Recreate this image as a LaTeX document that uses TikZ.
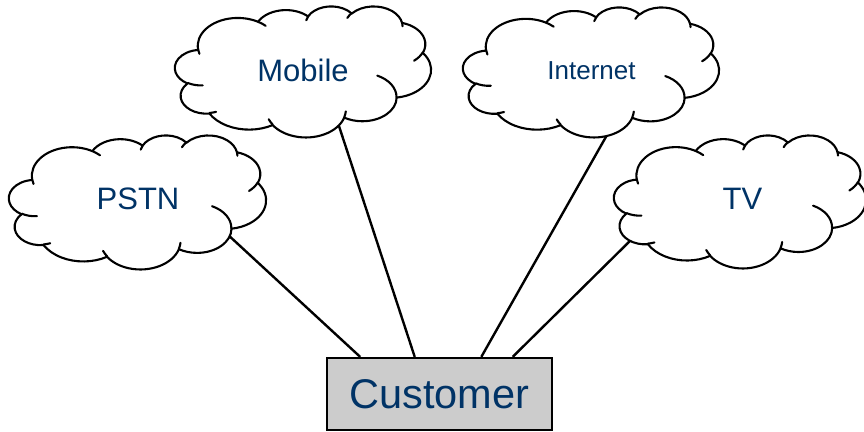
\documentclass[tikz,border=0pt]{standalone}
\usepackage{fontspec}
\setmainfont{Liberation Sans}
\usetikzlibrary{calc}

\definecolor{labelblue}{RGB}{0,51,102}
\definecolor{boxgray}{RGB}{204,204,204}

% An elliptic arc given by radii and "visual" start angle / sweep (degrees),
% stored as a style holding TikZ's parametric angles.
\newcommand\defarc[5]{%
  \pgfmathsetmacro\arcsa{atan2((#2)*sin(#4),(#3)*cos(#4))}%
  \pgfmathsetmacro\arcsb{atan2((#2)*sin((#4)+(#5)),(#3)*cos((#4)+(#5)))}%
  \pgfmathsetmacro\arcsc{\arcsa+mod(\arcsb-\arcsa+720,360)}%
  \edef\arcstmp{\noexpand\tikzset{#1/.style={start angle=\arcsa,end angle=\arcsc,x radius=#2,y radius=#3}}}%
  \arcstmp}

% outline of the cloud (box 432 x 432, y pointing down)
\defarc{co1}{67.53}{91.90}{-190.4875}{123.7805}
\defarc{co2}{53.33}{72.67}{-144.1024}{89.9452}
\defarc{co3}{43.65}{59.45}{-145.8079}{99.7230}
\defarc{co4}{48.57}{65.95}{-130.9861}{117.2417}
\defarc{co5}{53.33}{72.73}{-78.7089}{109.0269}
\defarc{co6}{67.75}{92.20}{-46.2673}{130.2690}
\defarc{co7}{57.85}{78.67}{0.6250}{114.0333}
\defarc{co8}{67.52}{92.15}{22.4516}{115.1726}
\defarc{co9}{77.20}{105.43}{66.2426}{75.7110}
\defarc{co10}{43.60}{59.18}{-274.9421}{146.7356}
\defarc{co11}{43.45}{59.45}{-246.8285}{152.5189}
% inner folds of the cloud
\defarc{ci1}{43.45}{59.45}{86.7420}{26.4295}
\defarc{ci2}{43.60}{59.18}{73.6105}{11.4475}
\defarc{ci3}{67.52}{92.15}{137.6242}{14.0811}
\defarc{ci4}{67.52}{92.15}{6.4533}{15.9984}
\defarc{ci5}{57.85}{78.67}{-70.2924}{70.9174}
\defarc{ci6}{53.33}{72.73}{30.3180}{27.7515}
\defarc{ci7}{48.57}{65.95}{-13.7443}{14.8589}
\defarc{ci8}{48.57}{65.95}{-149.1815}{18.1954}
\defarc{ci9}{43.65}{59.45}{-163.4943}{17.6864}
\defarc{ci10}{67.53}{91.90}{-66.7070}{12.3194}
\defarc{ci11}{67.53}{91.90}{157.6544}{11.8582}

\tikzset{
  cloudline/.style={draw=black, line width=2.1pt, line join=round},
  cloudlabel/.style={text=labelblue, inner sep=0pt, anchor=base,
    font=\fontsize{31}{36}\selectfont},
  link/.style={draw=black, line width=2.4pt},
  custbox/.style={draw=black, line width=2.2pt, fill=boxgray, text=labelblue,
    minimum width=225pt, minimum height=72pt, inner sep=0pt,
    font=\fontsize{41.5}{48}\selectfont}
}

% cloud with top left corner at (#1,#2), width #3, height #4
\newcommand\officecloud[4]{%
  \begin{scope}[xshift=#1pt, yshift=#2pt, xscale=#3/432, yscale=-#4/432]
    \filldraw[cloudline, fill=white] (39.00,143.70)
      arc[co1] arc[co2] arc[co3] arc[co4] arc[co5] arc[co6]
      arc[co7] arc[co8] arc[co9] arc[co10] arc[co11] -- cycle;
    \draw[cloudline, line cap=round]
      (46.93,261.77) arc[ci1]  (69.28,348.99) arc[ci2]
      (164.78,390.90) arc[ci3] (288.27,347.51) arc[ci4]
      (341.29,229.54) arc[ci5] (417.98,153.54) arc[ci6]
      (383.24,54.26) arc[ci7]  (290.78,39.52) arc[ci8]
      (221.41,47.20) arc[ci9]  (140.00,51.92) arc[ci10]
      (41.27,157.89) arc[ci11];
  \end{scope}}

\begin{document}
\begin{tikzpicture}[x=1pt, y=1pt]
  \useasboundingbox (0,0) rectangle (864,431);

  % the customer and the points where the links leave the clouds
  \node[custbox] (cust) at (439.5,37) {Customer};
  \coordinate (pstn-end)  at (226,198);
  \coordinate (mobile-end) at (336,314);
  \coordinate (inet-end)  at (607,296);
  \coordinate (tv-end)    at (637,197);

  \draw[link] (pstn-end)   -- ($(cust.north west)!0.151!(cust.north east)$);
  \draw[link] (mobile-end) -- ($(cust.north west)!0.391!(cust.north east)$);
  \draw[link] (inet-end)   -- ($(cust.north west)!0.684!(cust.north east)$);
  \draw[link] (tv-end)     -- ($(cust.north west)!0.822!(cust.north east)$);

  % the four networks
  \officecloud{9}{296}{257}{134}
  \officecloud{175}{425}{256}{131}
  \officecloud{463}{424}{256}{130}
  \officecloud{614}{296}{252}{133}

  \node[cloudlabel] (pstn)   at (138,221) {PSTN};
  \node[cloudlabel] (mobile) at (303,349) {Mobile};
  \node[cloudlabel, font=\fontsize{26}{30}\selectfont] (inet) at (591.5,351) {Internet};
  \node[cloudlabel] (tv)     at (742.5,221) {TV};
\end{tikzpicture}
\end{document}
